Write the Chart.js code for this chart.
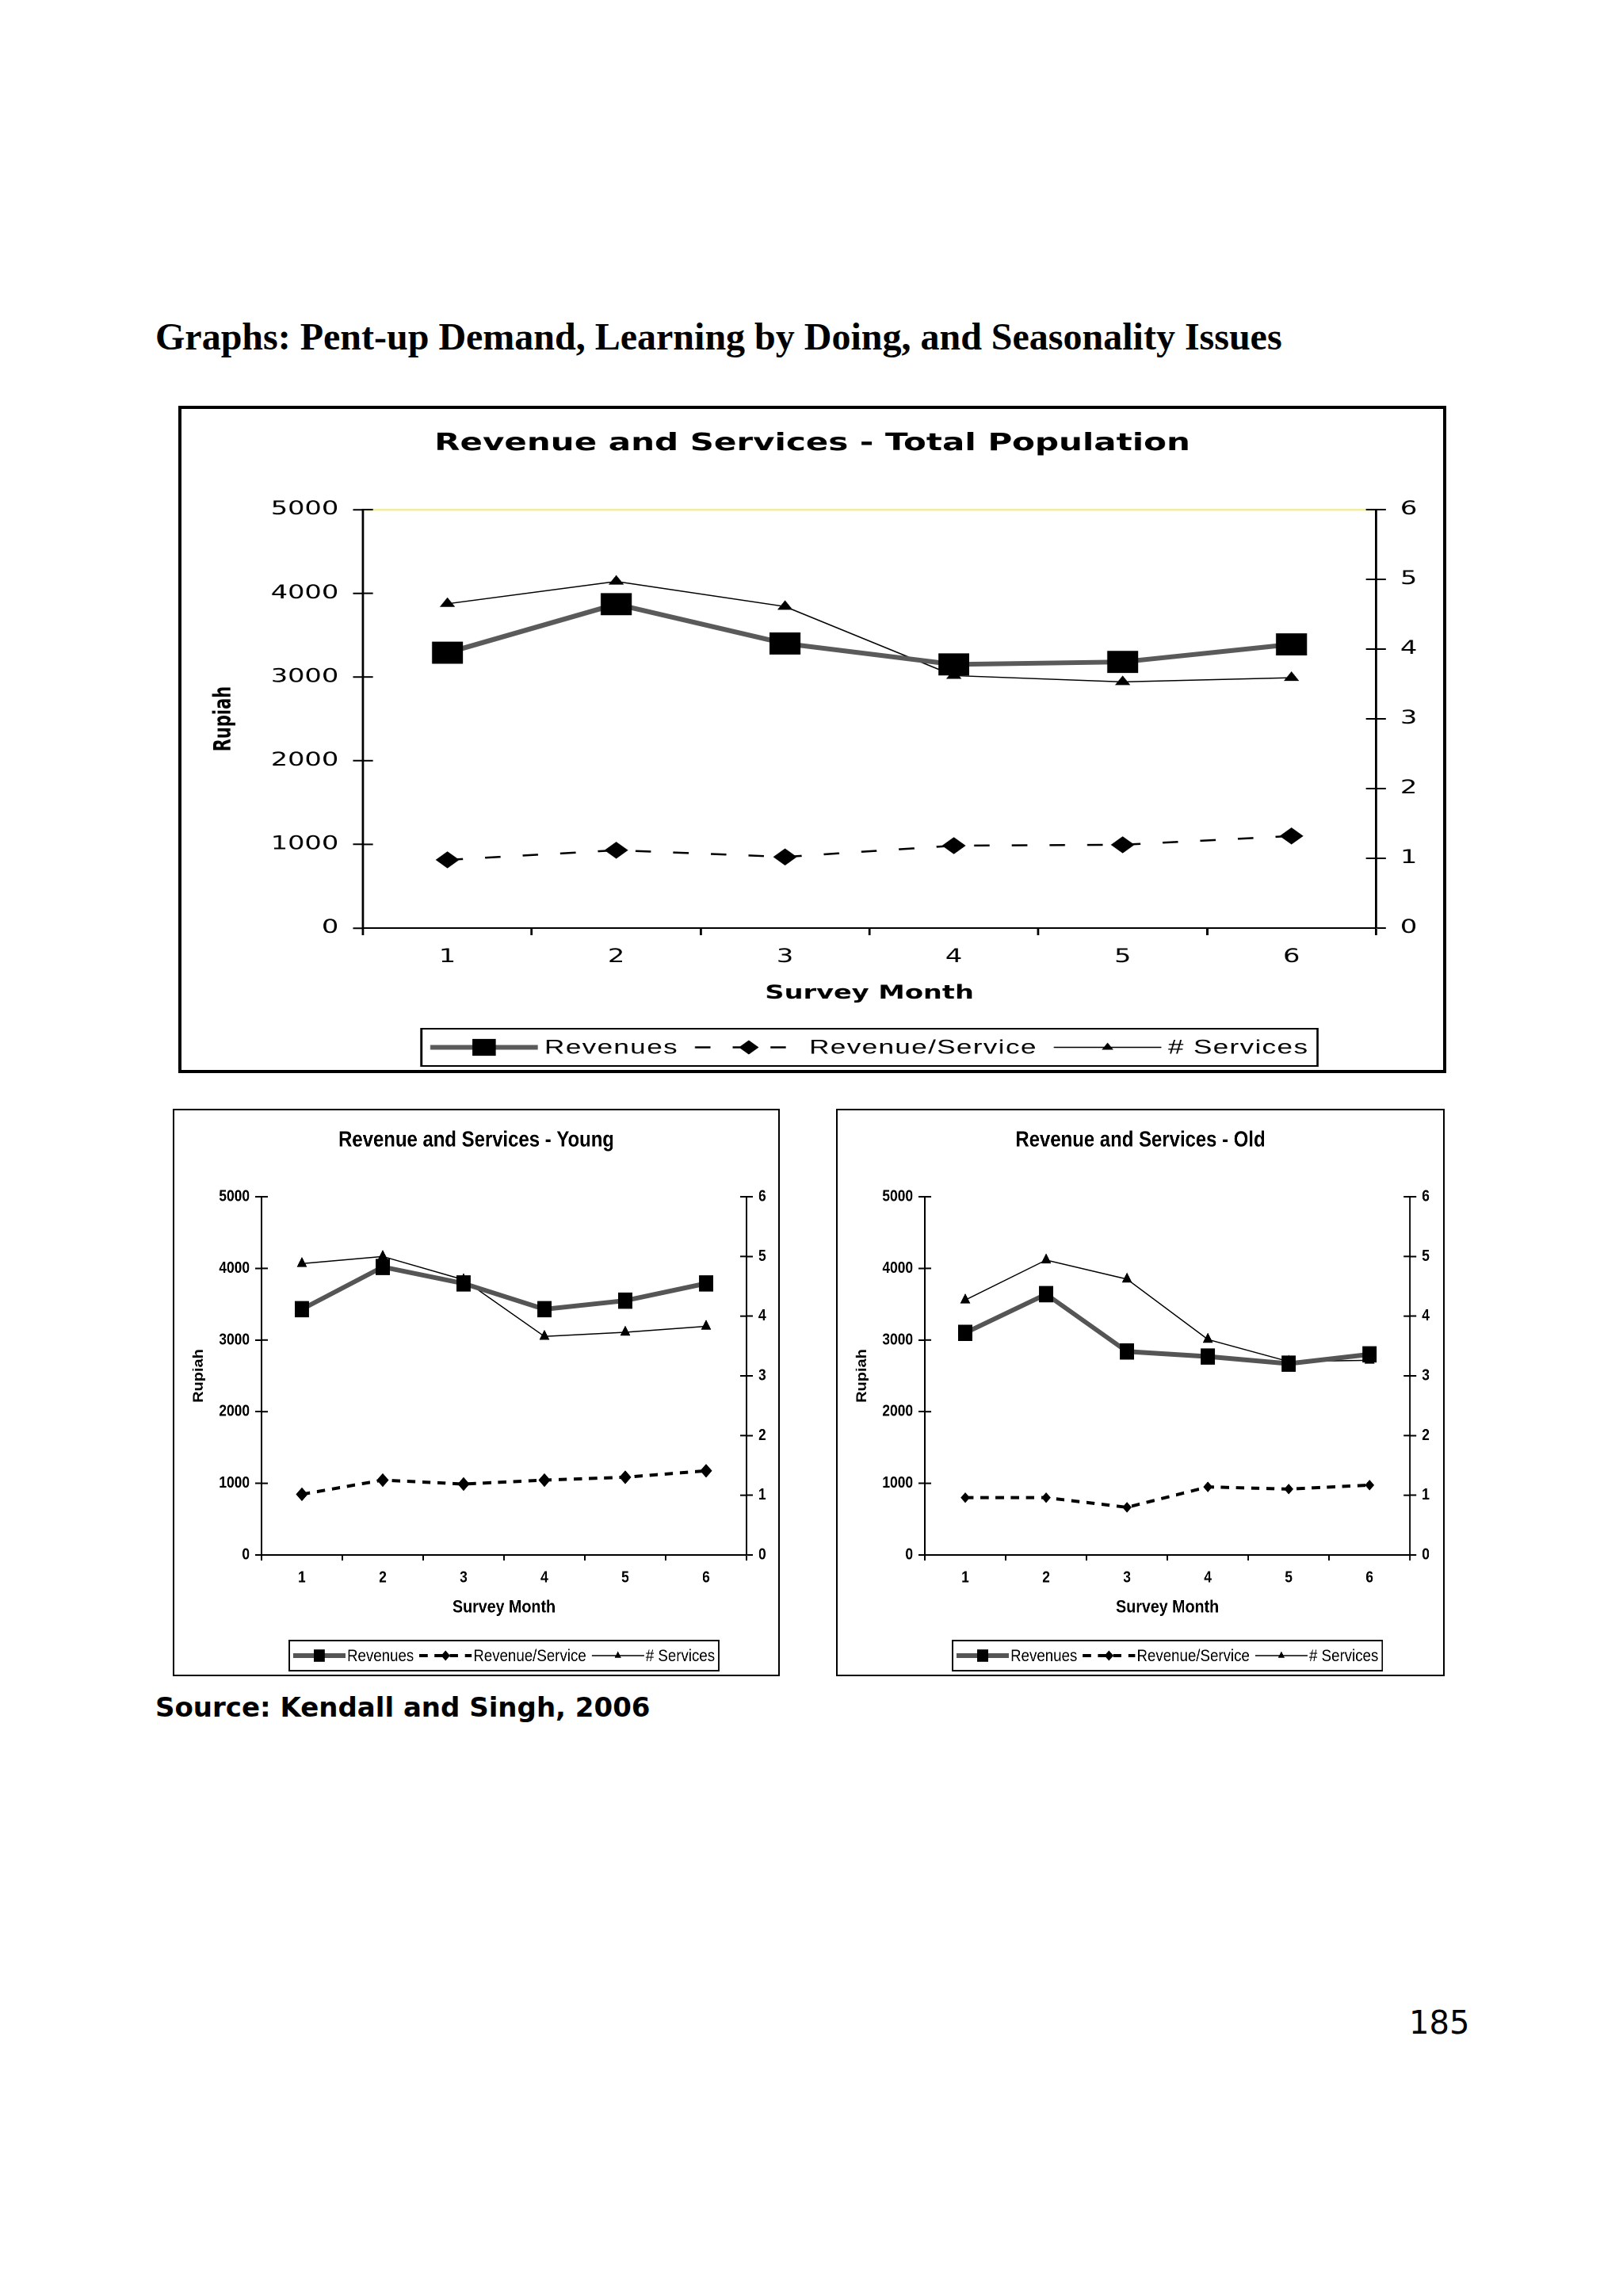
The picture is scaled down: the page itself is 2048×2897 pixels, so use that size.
<!DOCTYPE html>
<html>
<head>
<meta charset="utf-8">
<script src="https://cdn.jsdelivr.net/npm/chart.js@4/dist/chart.umd.min.js"></script>
<style>
html,body{margin:0;padding:0;background:#fff;}
body{width:2048px;height:2897px;position:relative;overflow:hidden;}
.abs{position:absolute;white-space:nowrap;color:#000;}
#heading{left:196px;top:401px;font:bold 48px "Liberation Serif";line-height:1;}
.box{position:absolute;box-sizing:border-box;border:solid #000;background:#fff;}
#mainBox{left:225px;top:512px;width:1600px;height:842px;border-width:4px;}
#youngBox{left:218px;top:1399px;width:766px;height:716px;border-width:2px;}
#oldBox{left:1055px;top:1399px;width:768px;height:716px;border-width:2px;}
canvas{display:block;}
#source{left:196px;top:2137px;font:bold 34px "DejaVu Sans";line-height:1;}
#page{left:1778px;top:2532px;font:40px "DejaVu Sans";line-height:1;}
</style>
</head>
<body>
<div class="abs" id="heading">Graphs: Pent-up Demand, Learning by Doing, and Seasonality Issues</div>
<div class="box" id="mainBox"><canvas id="cMain" width="1137" height="834" style="width:1592px;height:834px"></canvas></div>
<div class="box" id="youngBox"><canvas id="cYoung" width="876" height="712" style="width:762px;height:712px"></canvas></div>
<div class="box" id="oldBox"><canvas id="cOld" width="878" height="712" style="width:764px;height:712px"></canvas></div>
<div class="abs" id="source">Source: Kendall and Singh, 2006</div>
<div class="abs" id="page">185</div>
<script>
// ---------- data ----------
const months = ['1', '2', '3', '4', '5', '6'];
const seriesNames = ['Revenues', 'Revenue/Service', '# Services'];
const leftTickLabels = ['0', '1000', '2000', '3000', '4000', '5000'];
const rightTickLabels = ['0', '1', '2', '3', '4', '5', '6'];
const yTitle = 'Rupiah';
const xTitle = 'Survey Month';

const totalTitle = 'Revenue and Services - Total Population';
const totalRevenues = [3290, 3870, 3400, 3150, 3180, 3390];
const totalRevPerService = [815, 930, 850, 985, 995, 1100];
const totalServices = [4.65, 4.97, 4.61, 3.62, 3.53, 3.59];

const youngTitle = 'Revenue and Services - Young';
const youngRevenues = [3430, 4020, 3790, 3430, 3550, 3790];
const youngRevPerService = [847, 1045, 990, 1045, 1085, 1175];
const youngServices = [4.88, 5.0, 4.61, 3.66, 3.73, 3.83];

const oldTitle = 'Revenue and Services - Old';
const oldRevenues = [3100, 3640, 2840, 2770, 2670, 2800];
const oldRevPerService = [800, 800, 665, 950, 920, 975];
const oldServices = [4.27, 4.94, 4.62, 3.61, 3.24, 3.26];

// ---------- helpers ----------
function marker(ctx, style, r, x, y) {
  ctx.beginPath();
  if (style === 'rect') {
    const s = r * Math.SQRT1_2;
    ctx.rect(x - s, y - s, 2 * s, 2 * s);
  } else if (style === 'rectRot') {
    ctx.moveTo(x, y - r); ctx.lineTo(x + r, y); ctx.lineTo(x, y + r); ctx.lineTo(x - r, y); ctx.closePath();
  } else if (style === 'triangle') {
    const a = 2 * Math.PI / 3;
    ctx.moveTo(x, y - r);
    ctx.lineTo(x + Math.sin(a) * r, y - Math.cos(a) * r);
    ctx.lineTo(x + Math.sin(2 * a) * r, y - Math.cos(2 * a) * r);
    ctx.closePath();
  }
  ctx.fill();
}

const excelPlugin = {
  id: 'excel',
  afterDraw(chart, args, o) {
    const ctx = chart.ctx;
    ctx.save();
    // inner halves of the crossing value-axis ticks
    ctx.strokeStyle = '#000';
    ctx.lineWidth = o.tickWidth;
    ['y', 'y1'].forEach(id => {
      const s = chart.scales[id];
      s.ticks.forEach((t, i) => {
        const py = s.getPixelForTick(i);
        ctx.beginPath();
        if (id === 'y') { ctx.moveTo(s.right, py); ctx.lineTo(s.right + o.innerTick, py); }
        else { ctx.moveTo(s.left - o.innerTick, py); ctx.lineTo(s.left, py); }
        ctx.stroke();
      });
    });
    // Excel-style legend
    const ds = chart.data.datasets;
    ctx.font = o.font;
    if ('letterSpacing' in ctx) ctx.letterSpacing = o.letterSpacing;
    const widths = ds.map(d => ctx.measureText(d.label).width);
    const total = 2 * o.pad + ds.length * (o.sample + o.gap) + widths.reduce((a, b) => a + b, 0) + (ds.length - 1) * o.itemGap;
    const area = chart.chartArea;
    const cx = (area.left + area.right) / 2;
    const left = cx - total / 2;
    const cy = chart.height - o.bottom;
    ctx.lineWidth = o.boxWidth;
    ctx.strokeStyle = '#000';
    ctx.strokeRect(left, cy - o.height / 2, total, o.height);
    let x = left + o.pad;
    ds.forEach((d, i) => {
      ctx.save();
      ctx.strokeStyle = d.borderColor;
      ctx.lineWidth = d.borderWidth;
      ctx.setLineDash(d.borderDash || []);
      ctx.beginPath(); ctx.moveTo(x, cy); ctx.lineTo(x + o.sample, cy); ctx.stroke();
      ctx.restore();
      ctx.fillStyle = '#000';
      marker(ctx, d.pointStyle, o.radii[i], x + o.sample / 2, cy);
      x += o.sample + o.gap;
      ctx.fillStyle = '#000';
      ctx.textBaseline = 'middle';
      ctx.textAlign = 'left';
      ctx.fillText(d.label, x, cy + 1);
      x += widths[i] + o.itemGap;
    });
    ctx.restore();
  }
};

function buildChart(id, title, rev, rps, svc, g) {
  const canvas = document.getElementById(id);
  const W = canvas.width;
  return new Chart(canvas, {
    type: 'line',
    data: {
      labels: months,
      datasets: [
        { label: seriesNames[0], data: rev, yAxisID: 'y', borderColor: g.revColor, borderWidth: g.revWidth,
          pointStyle: 'rect', pointRadius: g.rRev, pointBackgroundColor: '#000', pointBorderColor: '#000', pointBorderWidth: 1, tension: 0 },
        { label: seriesNames[1], data: rps, yAxisID: 'y', borderColor: '#000', borderWidth: g.rpsWidth, borderDash: g.rpsDash,
          pointStyle: 'rectRot', pointRadius: g.rRps, pointBackgroundColor: '#000', pointBorderColor: '#000', pointBorderWidth: 1, tension: 0 },
        { label: seriesNames[2], data: svc, yAxisID: 'y1', borderColor: '#000', borderWidth: g.svcWidth,
          pointStyle: 'triangle', pointRadius: g.rSvc, pointBackgroundColor: '#000', pointBorderColor: '#000', pointBorderWidth: 1, tension: 0 }
      ]
    },
    plugins: [excelPlugin],
    options: {
      responsive: false,
      animation: false,
      devicePixelRatio: 2,
      layout: { padding: { left: 0, right: 0, top: 0, bottom: g.padBottom } },
      plugins: {
        legend: { display: false },
        tooltip: { enabled: false },
        title: { display: true, text: title, color: '#000',
          font: { family: g.titleFamily, size: g.titleSize, weight: 'bold', lineHeight: 1.2 },
          padding: { top: g.titleTop, bottom: g.titleBottom } },
        excel: g.legend
      },
      scales: {
        x: {
          type: 'category', offset: true,
          grid: { offset: true, drawOnChartArea: false, drawTicks: true, tickLength: g.xTick, tickColor: '#000', tickWidth: g.axisW },
          border: { display: true, color: '#000', width: g.axisW },
          ticks: { color: '#000', font: { family: g.tickFamily, size: g.tickSize, weight: g.tickWeight, lineHeight: 1.2 }, padding: g.xTickPad, maxRotation: 0, autoSkip: false },
          title: { display: true, text: xTitle, color: '#000', font: { family: g.axisTitleFamily, size: g.xTitleSize, weight: 'bold', lineHeight: 1.2 }, padding: { top: 0, bottom: 0 } },
          afterFit: s => { s.height = g.xHeight; }
        },
        y: {
          position: 'left', min: 0, max: 5000,
          ticks: { stepSize: 1000, color: '#000', font: { family: g.tickFamily, size: g.tickSize, weight: g.tickWeight }, padding: g.yTickPad,
            callback: (v, i) => leftTickLabels[i] },
          grid: { drawOnChartArea: true, color: c => (c.tick && c.tick.value === 5000) ? g.topColor : 'rgba(0,0,0,0)',
            lineWidth: g.topLineW, tickLength: g.yTick, tickColor: '#000', tickWidth: g.axisW },
          border: { display: true, color: '#000', width: g.axisW },
          title: { display: true, text: yTitle, color: '#000', font: { family: g.axisTitleFamily, size: g.yTitleSize, weight: 'bold', lineHeight: 1.2 }, padding: { top: g.yTitlePad, bottom: 0 } },
          afterFit: s => { s.width = g.yWidth; }
        },
        y1: {
          position: 'right', min: 0, max: 6,
          ticks: { stepSize: 1, color: '#000', font: { family: g.tickFamily, size: g.tickSize, weight: g.tickWeight }, padding: g.yTickPad,
            callback: (v, i) => rightTickLabels[i] },
          grid: { drawOnChartArea: false, tickLength: g.yTick, tickColor: '#000', tickWidth: g.axisW },
          border: { display: true, color: '#000', width: g.axisW },
          afterFit: s => { s.width = W - g.plotRight; }
        }
      }
    }
  });
}

const mainStyle = {
  revColor: '#5a5a5a', revWidth: 6, rRev: 19,
  rpsWidth: 2.5, rpsDash: [14, 20], rRps: 10,
  svcWidth: 1.5, rSvc: 7,
  padBottom: 81.6, titleFamily: 'DejaVu Sans', titleSize: 30, titleTop: 26, titleBottom: 65,
  tickFamily: 'DejaVu Sans', tickSize: 24, tickWeight: 'normal', axisTitleFamily: 'DejaVu Sans', xTitleSize: 24, yTitleSize: 21,
  xTick: 9, xTickPad: 13.6, yTick: 9, yTickPad: 13, axisW: 2, xHeight: 97.4,
  yWidth: 163.6, plotRight: 1076.4, yTitlePad: 26, topColor: '#f1eca0', topLineW: 2.5,
  legend: { font: '25px "Liberation Sans"', letterSpacing: '1px', sample: 97, gap: 6, itemGap: 15, pad: 8,
    bottom: 28.5, height: 47, boxWidth: 2, radii: [15, 9, 6], innerTick: 9, tickWidth: 2 }
};
const smallStyle = (rRps) => ({
  revColor: '#555555', revWidth: 6, rRev: 13.8,
  rpsWidth: 4, rpsDash: [12, 10], rRps: rRps,
  svcWidth: 1.5, rSvc: 7.5,
  padBottom: 71.4, titleFamily: 'Liberation Sans', titleSize: 27.5, titleTop: 21.5, titleBottom: 54.5,
  tickFamily: 'Liberation Sans', tickSize: 20, tickWeight: 'bold', axisTitleFamily: 'Liberation Sans', xTitleSize: 22.6, yTitleSize: 20,
  xTick: 7, xTickPad: 10, yTick: 9.2, yTickPad: 8, axisW: 2, xHeight: 79.6,
  yWidth: 126.4, plotRight: 830, yTitlePad: 23.6, topColor: 'rgba(0,0,0,0)', topLineW: 1,
  legend: { font: '21.5px "Liberation Sans"', letterSpacing: '0px', sample: 76, gap: 2.3, itemGap: 8, pad: 5.7,
    bottom: 24, height: 38, boxWidth: 2, radii: [11, 6.5, 5.5], innerTick: 9.2, tickWidth: 2 }
});

buildChart('cMain', totalTitle, totalRevenues, totalRevPerService, totalServices, mainStyle);
buildChart('cYoung', youngTitle, youngRevenues, youngRevPerService, youngServices, smallStyle(8));
buildChart('cOld', oldTitle, oldRevenues, oldRevPerService, oldServices, smallStyle(6));
</script>
</body>
</html>
